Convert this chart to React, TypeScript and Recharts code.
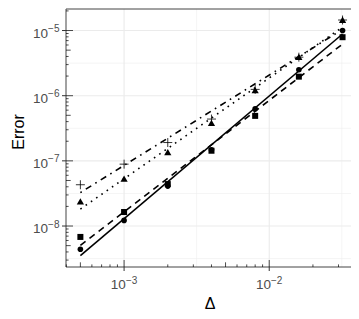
import React from 'react';
import { ComposedChart, Scatter, XAxis, YAxis, ReferenceLine } from 'recharts';

// ---- data ----
const deltas = [0.0005, 0.001, 0.002, 0.004, 0.008, 0.016, 0.032];
const errCircle = [4.4e-9, 1.22e-8, 4.1e-8, 1.48e-7, 6.3e-7, 2.5e-6, 1.0e-5];
const errSquare = [6.8e-9, 1.64e-8, 4.4e-8, 1.43e-7, 4.9e-7, 1.96e-6, 7.9e-6];
const errTriangle = [2.34e-8, 5.2e-8, 1.33e-7, 3.75e-7, 1.19e-6, 3.85e-6, 1.43e-5];
const errPlus = [4.3e-8, 8.9e-8, 1.91e-7, 4.38e-7, 1.25e-6, 3.9e-6, 1.45e-5];

// fitted-line end points
const fitX = [0.0005, 0.032];
const fitCircle = [3.5e-9, 8.85e-6];
const fitSquare = [5.06e-9, 6.2e-6];
const fitTriangle = [1.82e-8, 1.13e-5];
const fitPlus = [3.26e-8, 1.04e-5];

// axes
const X_DOMAIN = [3.98e-4, 0.03837];
const Y_DOMAIN = [2.35e-9, 2.14e-5];
const xTicks = [4e-4, 5e-4, 6e-4, 7e-4, 8e-4, 9e-4, 1e-3, 2e-3, 3e-3, 4e-3, 5e-3, 6e-3, 7e-3, 8e-3, 9e-3, 1e-2, 2e-2, 3e-2];
const yTicks = [
  3e-9, 4e-9, 5e-9, 6e-9, 7e-9, 8e-9, 9e-9, 1e-8,
  2e-8, 3e-8, 4e-8, 5e-8, 6e-8, 7e-8, 8e-8, 9e-8, 1e-7,
  2e-7, 3e-7, 4e-7, 5e-7, 6e-7, 7e-7, 8e-7, 9e-7, 1e-6,
  2e-6, 3e-6, 4e-6, 5e-6, 6e-6, 7e-6, 8e-6, 9e-6, 1e-5, 2e-5,
];
const xMajor = [1e-3, 1e-2];
const xMajorLabels = ['−3', '−2'];
const yMajor = [1e-8, 1e-7, 1e-6, 1e-5];
const yMajorLabels = ['−8', '−7', '−6', '−5'];
const xMinorGrid = [0.00316228, 0.0316228];
const yMinorGrid = [3.16228e-9, 3.16228e-8, 3.16228e-7, 3.16228e-6];

const xLabel = 'Δ';
const yLabel = 'Error';

const FONT = '"Liberation Sans", Arial, Helvetica, sans-serif';

const toPts = (xs: number[], ys: number[]) => xs.map((x, i) => ({ x, y: ys[i] }));

const mantissa = (v: number) => {
  const e = Math.floor(Math.log10(v) + 1e-9);
  return Math.round(v / Math.pow(10, e));
};
const tickLen = (v: number) => {
  const m = mantissa(v);
  return m === 1 ? 7 : m === 5 ? 4.7 : 2.6;
};

const XTick = (props: any) => {
  const { x, y, payload } = props;
  const v = payload.value;
  const len = tickLen(v);
  const mi = xMajor.findIndex((m) => Math.abs(m - v) / m < 1e-6);
  return (
    <g>
      <line x1={x} x2={x} y1={y} y2={y - len} stroke="#000" strokeWidth={0.7} />
      {mi >= 0 && (
        <>
          <line x1={x} x2={x} y1={y} y2={y + 4} stroke="#333" strokeWidth={1} />
          <text x={x} y={y + 22} textAnchor="middle" fill="#4d4d4d" fontSize={13.5} fontFamily={FONT}>
            <tspan>10</tspan>
            <tspan dy={-5.5} fontSize={10}>{xMajorLabels[mi]}</tspan>
          </text>
        </>
      )}
    </g>
  );
};

const YTick = (props: any) => {
  const { x, y, payload } = props;
  const v = payload.value;
  const len = tickLen(v);
  const mi = yMajor.findIndex((m) => Math.abs(m - v) / m < 1e-6);
  return (
    <g>
      <line x1={x} x2={x + len} y1={y} y2={y} stroke="#000" strokeWidth={0.7} />
      {mi >= 0 && (
        <>
          <line x1={x - 4} x2={x} y1={y} y2={y} stroke="#333" strokeWidth={1} />
          <text x={x - 6.5} y={y + 7} textAnchor="end" fill="#4d4d4d" fontSize={13.5} fontFamily={FONT}>
            <tspan>10</tspan>
            <tspan dy={-5.5} fontSize={10}>{yMajorLabels[mi]}</tspan>
          </text>
        </>
      )}
    </g>
  );
};

const Circle = (p: any) => <circle cx={p.cx} cy={p.cy} r={2.8} fill="#000" />;
const Square = (p: any) => <rect x={p.cx - 3} y={p.cy - 3} width={6} height={6} fill="#000" />;
const Triangle = (p: any) => (
  <polygon
    points={`${p.cx},${p.cy - 3.8} ${p.cx - 3.6},${p.cy + 2.5} ${p.cx + 3.6},${p.cy + 2.5}`}
    fill="#000"
  />
);
const Plus = (p: any) => (
  <g stroke="#000" strokeWidth={0.8}>
    <line x1={p.cx - 4.5} x2={p.cx + 4.5} y1={p.cy} y2={p.cy} />
    <line x1={p.cx} x2={p.cx} y1={p.cy - 4.5} y2={p.cy + 4.5} />
  </g>
);
const NoShape = () => <g />;

const LW = 1.6;

export default function App() {
  return (
    <ComposedChart
      width={351}
      height={311}
      margin={{ top: 1, right: 5, bottom: 0, left: 0 }}
      style={{ fontFamily: FONT }}
    >
      <XAxis
        dataKey="x"
        type="number"
        scale="log"
        domain={X_DOMAIN}
        allowDataOverflow
        ticks={xTicks}
        interval={0}
        tickSize={0}
        tickMargin={0}
        tickLine={false}
        axisLine={false}
        tick={<XTick />}
        height={52}
        label={{
          value: xLabel,
          content: () => (
            <text x={202} y={301} textAnchor="middle" fill="#000" fontSize={16} fontFamily={FONT}>
              {xLabel}
            </text>
          ),
        }}
      />
      <YAxis
        dataKey="y"
        type="number"
        scale="log"
        domain={Y_DOMAIN}
        allowDataOverflow
        ticks={yTicks}
        interval={0}
        tickSize={0}
        tickMargin={0}
        tickLine={false}
        axisLine={false}
        tick={<YTick />}
        width={58}
        label={{
          value: yLabel,
          content: () => (
            <text
              x={16}
              y={124}
              transform="rotate(-90 16 124)"
              textAnchor="middle"
              fill="#000"
              fontSize={16}
              fontFamily={FONT}
            >
              {yLabel}
            </text>
          ),
        }}
      />

      {xMinorGrid.map((v) => (
        <ReferenceLine key={`xm${v}`} x={v} stroke="#ededed" strokeWidth={0.6} />
      ))}
      {yMinorGrid.map((v) => (
        <ReferenceLine key={`ym${v}`} y={v} stroke="#ededed" strokeWidth={0.6} />
      ))}
      {xMajor.map((v) => (
        <ReferenceLine key={`xM${v}`} x={v} stroke="#ebebeb" strokeWidth={1.1} />
      ))}
      {yMajor.map((v) => (
        <ReferenceLine key={`yM${v}`} y={v} stroke="#ebebeb" strokeWidth={1.1} />
      ))}

      <ReferenceLine x={X_DOMAIN[0]} stroke="#444" strokeWidth={1} ifOverflow="visible" />
      <ReferenceLine x={X_DOMAIN[1]} stroke="#444" strokeWidth={1} ifOverflow="visible" />
      <ReferenceLine y={Y_DOMAIN[0]} stroke="#444" strokeWidth={1} ifOverflow="visible" />
      <ReferenceLine y={Y_DOMAIN[1]} stroke="#444" strokeWidth={1} ifOverflow="visible" />

      <Scatter
        data={toPts(fitX, fitCircle)}
        line={{ stroke: '#000', strokeWidth: LW }}
        shape={NoShape}
        isAnimationActive={false}
      />
      <Scatter
        data={toPts(fitX, fitSquare)}
        line={{ stroke: '#000', strokeWidth: LW, strokeDasharray: '6.5 5' }}
        shape={NoShape}
        isAnimationActive={false}
      />
      <Scatter
        data={toPts(fitX, fitTriangle)}
        line={{ stroke: '#000', strokeWidth: LW, strokeDasharray: '1.6 4.8' }}
        shape={NoShape}
        isAnimationActive={false}
      />
      <Scatter
        data={toPts(fitX, fitPlus)}
        line={{ stroke: '#000', strokeWidth: LW, strokeDasharray: '1.6 4.8 6.4 4.8' }}
        shape={NoShape}
        isAnimationActive={false}
      />

      <Scatter data={toPts(deltas, errCircle)} shape={Circle} isAnimationActive={false} />
      <Scatter data={toPts(deltas, errSquare)} shape={Square} isAnimationActive={false} />
      <Scatter data={toPts(deltas, errTriangle)} shape={Triangle} isAnimationActive={false} />
      <Scatter data={toPts(deltas, errPlus)} shape={Plus} isAnimationActive={false} />
    </ComposedChart>
  );
}
